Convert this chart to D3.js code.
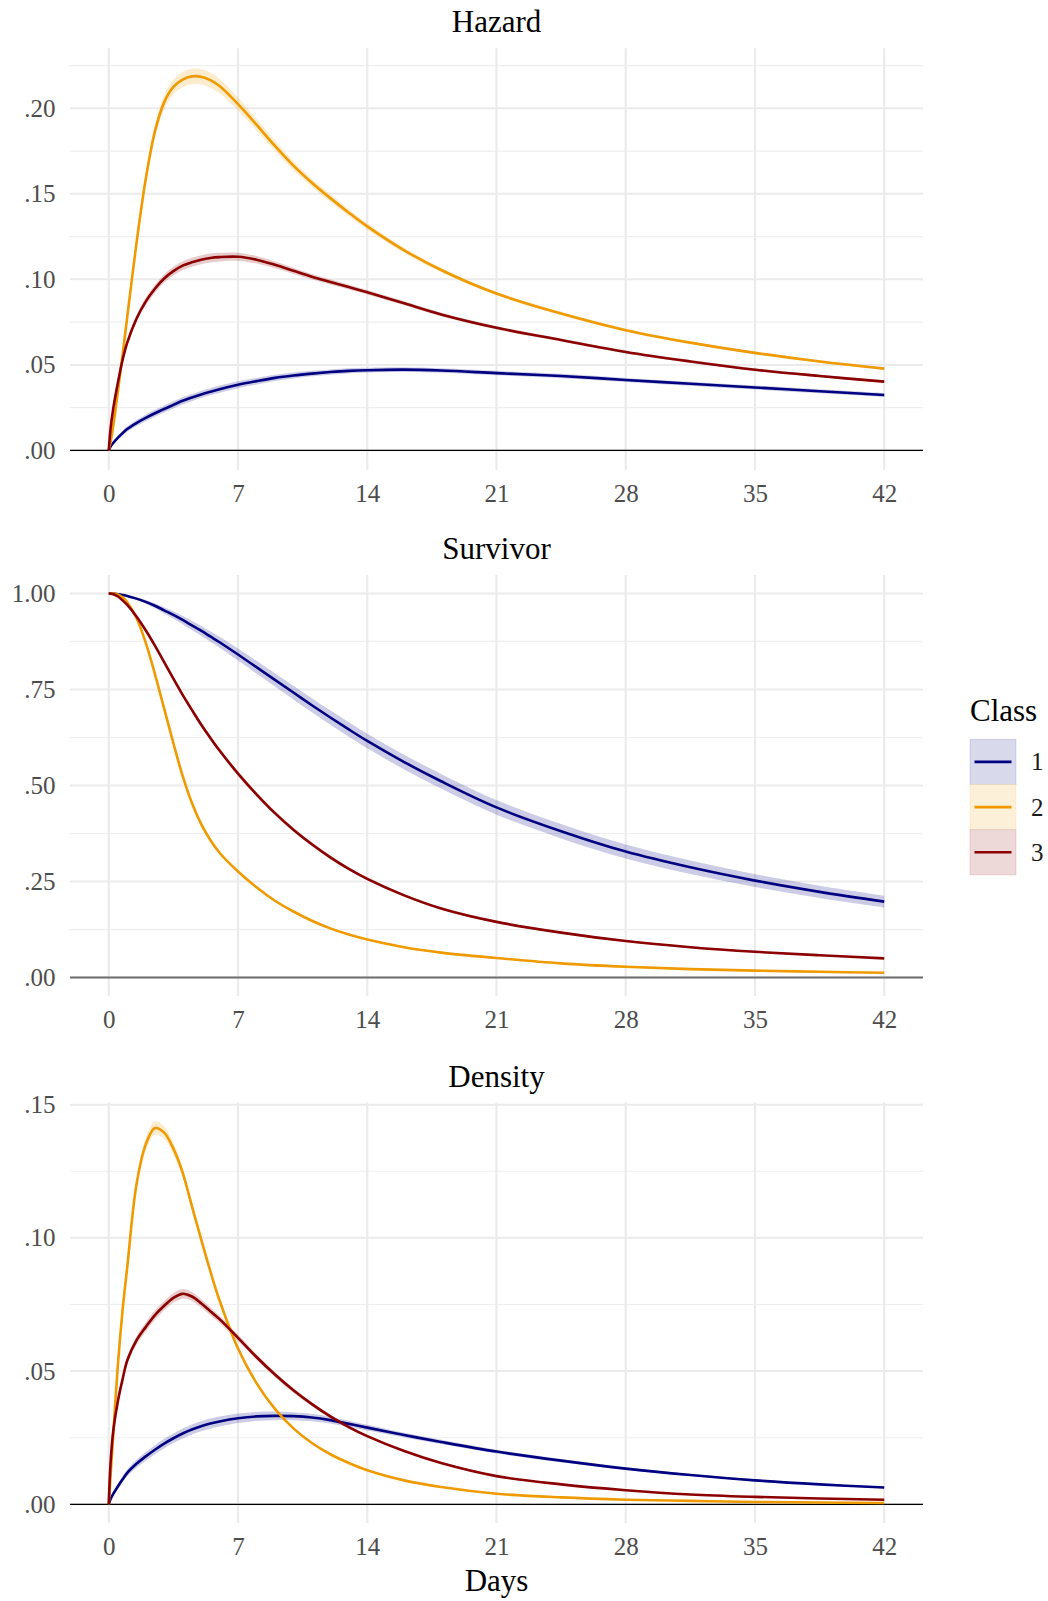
<!DOCTYPE html>
<html>
<head>
<meta charset="utf-8">
<script src="https://cdn.jsdelivr.net/npm/d3@7"></script>
<style>
  body { margin: 0; background: #fff; }
  text { font-family: "Liberation Serif", "Times New Roman", serif; }
</style>
</head>
<body>
<div id="chart"></div>
<script>
// values, one entry per day in `days`
const days = [0, 0.1, 0.25, 0.5, 0.75, 1, 1.5, 2, 2.5, 3, 3.5, 4, 4.5, 5, 5.5, 6, 7, 8, 9, 10, 11, 12, 13, 14, 16, 18, 21, 24.5, 28, 31.5, 35, 38.5, 42];
const classes = ['1', '2', '3'];

const hazard1 = [0, 0.0023, 0.0045, 0.0075, 0.0101, 0.0125, 0.016, 0.019, 0.0217, 0.0242, 0.0266, 0.029, 0.0309, 0.0327, 0.0343, 0.0358, 0.0384, 0.0405, 0.0424, 0.0438, 0.0449, 0.0458, 0.0465, 0.0469, 0.0472, 0.0467, 0.0452, 0.0435, 0.0412, 0.039, 0.0368, 0.0346, 0.0324];
const hazard2 = [0, 0.005, 0.015, 0.035, 0.056, 0.078, 0.121, 0.1585, 0.1865, 0.2035, 0.2125, 0.2168, 0.2187, 0.2185, 0.2165, 0.213, 0.2025, 0.1905, 0.178, 0.1665, 0.1565, 0.1475, 0.139, 0.131, 0.117, 0.1055, 0.0917, 0.08, 0.0703, 0.063, 0.057, 0.052, 0.0478];
const hazard3 = [0, 0.013, 0.025, 0.04, 0.053, 0.063, 0.077, 0.087, 0.0945, 0.1005, 0.1048, 0.108, 0.11, 0.1115, 0.1125, 0.113, 0.1132, 0.1115, 0.1085, 0.105, 0.1015, 0.0985, 0.0955, 0.0925, 0.086, 0.0795, 0.0717, 0.0645, 0.0575, 0.052, 0.0472, 0.0435, 0.0402];
const hazardCI1 = [0, 0.0007, 0.001, 0.0013, 0.0015, 0.0016, 0.0018, 0.0019, 0.002, 0.0021, 0.0021, 0.0021, 0.0021, 0.0021, 0.0021, 0.0021, 0.002, 0.0019, 0.0018, 0.0017, 0.0016, 0.0015, 0.0015, 0.0014, 0.0014, 0.0013, 0.0013, 0.0013, 0.0012, 0.0012, 0.0012, 0.0012, 0.0012];
const hazardCI2 = [0, 0.0004, 0.0008, 0.0012, 0.0016, 0.002, 0.0027, 0.0034, 0.0039, 0.0042, 0.0044, 0.0045, 0.0045, 0.0045, 0.0044, 0.0042, 0.0038, 0.0034, 0.003, 0.0027, 0.0024, 0.0022, 0.002, 0.0018, 0.0015, 0.0013, 0.0011, 0.001, 0.0009, 0.0008, 0.0008, 0.0008, 0.0008];
const hazardCI3 = [0, 0.0008, 0.0011, 0.0014, 0.0016, 0.0018, 0.002, 0.0022, 0.0024, 0.0025, 0.0026, 0.0026, 0.0026, 0.0026, 0.0026, 0.0025, 0.0024, 0.0022, 0.002, 0.0018, 0.0016, 0.0015, 0.0014, 0.0013, 0.0012, 0.0011, 0.001, 0.0009, 0.0008, 0.0008, 0.0008, 0.0008, 0.0008];

const survivor1 = [1, 0.9999, 0.9995, 0.998, 0.996, 0.9935, 0.9865, 0.978, 0.968, 0.956, 0.944, 0.931, 0.917, 0.903, 0.888, 0.873, 0.841, 0.808, 0.775, 0.742, 0.709, 0.677, 0.646, 0.616, 0.561, 0.511, 0.443, 0.381, 0.328, 0.287, 0.2524, 0.223, 0.1977];
const survivor2 = [1, 0.9999, 0.9995, 0.997, 0.99, 0.977, 0.936, 0.872, 0.79, 0.70, 0.61, 0.525, 0.455, 0.40, 0.358, 0.325, 0.276, 0.235, 0.2, 0.172, 0.148, 0.128, 0.112, 0.099, 0.079, 0.065, 0.051, 0.037, 0.028, 0.022, 0.018, 0.015, 0.0125];
const survivor3 = [1, 0.9995, 0.998, 0.992, 0.982, 0.97, 0.94, 0.904, 0.864, 0.821, 0.778, 0.736, 0.697, 0.659, 0.624, 0.591, 0.531, 0.477, 0.428, 0.385, 0.347, 0.313, 0.283, 0.257, 0.214, 0.18, 0.145, 0.117, 0.095, 0.079, 0.067, 0.058, 0.05];
const survivorCI1 = [0, 0.0001, 0.0002, 0.0007, 0.0012, 0.0018, 0.0033, 0.0048, 0.0065, 0.0082, 0.0097, 0.011, 0.0121, 0.013, 0.0138, 0.0145, 0.0157, 0.0167, 0.0175, 0.018, 0.0184, 0.0187, 0.0189, 0.019, 0.0191, 0.0191, 0.019, 0.0187, 0.0182, 0.0175, 0.0168, 0.016, 0.0153];
const survivorCI2 = [0, 0.0001, 0.0002, 0.0005, 0.0007, 0.001, 0.0016, 0.0021, 0.0025, 0.0027, 0.0028, 0.0028, 0.0027, 0.0026, 0.0025, 0.0024, 0.0022, 0.002, 0.0018, 0.0016, 0.0014, 0.0013, 0.0012, 0.0011, 0.0009, 0.0008, 0.0007, 0.0006, 0.0005, 0.0005, 0.0004, 0.0004, 0.0004];
const survivorCI3 = [0, 0.0002, 0.0005, 0.001, 0.0015, 0.002, 0.0028, 0.0035, 0.004, 0.0045, 0.0049, 0.0052, 0.0054, 0.0056, 0.0057, 0.0058, 0.0058, 0.0057, 0.0055, 0.0053, 0.005, 0.0047, 0.0045, 0.0042, 0.0038, 0.0034, 0.003, 0.0027, 0.0024, 0.0022, 0.002, 0.0019, 0.0018];

const density1 = [0, 0.002, 0.004, 0.0068, 0.0094, 0.0118, 0.0152, 0.018, 0.0205, 0.0228, 0.0248, 0.0266, 0.0281, 0.0293, 0.0303, 0.0311, 0.0323, 0.033, 0.0332, 0.0331, 0.0326, 0.0316, 0.0302, 0.0288, 0.026, 0.0234, 0.0198, 0.0164, 0.0134, 0.011, 0.009, 0.0075, 0.0063];
const density2 = [0, 0.011, 0.027, 0.053, 0.073, 0.089, 0.12, 0.135, 0.1412, 0.1395, 0.1335, 0.1245, 0.112, 0.0995, 0.0875, 0.0765, 0.0585, 0.0455, 0.0358, 0.0285, 0.023, 0.0188, 0.0155, 0.0128, 0.009, 0.0065, 0.004, 0.0026, 0.00175, 0.0013, 0.0009, 0.0007, 0.0005];
const density3 = [0, 0.016, 0.028, 0.039, 0.047, 0.054, 0.0615, 0.0665, 0.071, 0.0745, 0.0775, 0.079, 0.078, 0.0755, 0.0725, 0.0695, 0.0625, 0.0553, 0.0487, 0.0428, 0.0376, 0.033, 0.029, 0.0256, 0.02, 0.0155, 0.0106, 0.0075, 0.0053, 0.0037, 0.0028, 0.0022, 0.00175];
const densityCI1 = [0, 0.0004, 0.0007, 0.001, 0.0012, 0.0013, 0.0015, 0.0016, 0.0017, 0.0018, 0.0018, 0.0019, 0.0019, 0.0019, 0.0019, 0.0019, 0.0018, 0.0017, 0.0016, 0.0015, 0.0014, 0.0013, 0.0012, 0.0011, 0.0009, 0.0008, 0.0007, 0.0006, 0.0005, 0.0004, 0.0004, 0.0003, 0.0003];
const densityCI2 = [0, 0.0003, 0.0007, 0.0011, 0.0014, 0.0017, 0.0021, 0.0024, 0.0025, 0.0024, 0.0021, 0.0018, 0.0015, 0.0012, 0.001, 0.0009, 0.0007, 0.0006, 0.0005, 0.0004, 0.0004, 0.0003, 0.0003, 0.0003, 0.0002, 0.0002, 0.0001, 0.0001, 0.0001, 0.0001, 0.0001, 0.0001, 0.0001];
const densityCI3 = [0, 0.0004, 0.0008, 0.0011, 0.0013, 0.0014, 0.0016, 0.0017, 0.0018, 0.0018, 0.0018, 0.0018, 0.0017, 0.0016, 0.0015, 0.0014, 0.0012, 0.0011, 0.001, 0.0009, 0.0008, 0.0007, 0.0006, 0.0005, 0.0004, 0.0004, 0.0003, 0.0002, 0.0002, 0.0001, 0.0001, 0.0001, 0.0001];

const xTicks = [0, 7, 14, 21, 28, 35, 42];
const hazardTicks = [0, 0.05, 0.10, 0.15, 0.20];
const hazardTickLabels = ['.00', '.05', '.10', '.15', '.20'];
const survivorTicks = [0, 0.25, 0.5, 0.75, 1];
const survivorTickLabels = ['.00', '.25', '.50', '.75', '1.00'];
const densityTicks = [0, 0.05, 0.10, 0.15];
const densityTickLabels = ['.00', '.05', '.10', '.15'];

// styling / layout
const colors = ['#000080', '#EE9A00', '#8B0000'];
const serif = '"Liberation Serif", "Times New Roman", serif';
const W = 1048, H = 1601;
const left = 70, right = 923;

const panels = [
  { title: 'Hazard', top: 48.3, bottom: 470, domain: [-0.01146, 0.2351],
    ticks: hazardTicks, labels: hazardTickLabels, minor: [0.025, 0.075, 0.125, 0.175, 0.225],
    series: [hazard1, hazard2, hazard3], ci: [hazardCI1, hazardCI2, hazardCI3],
    zeroColor: '#000', zeroWidth: 1.4 },
  { title: 'Survivor', top: 575, bottom: 996, domain: [-0.048, 1.048],
    ticks: survivorTicks, labels: survivorTickLabels, minor: [0.125, 0.375, 0.625, 0.875],
    series: [survivor1, survivor2, survivor3], ci: [survivorCI1, survivorCI2, survivorCI3],
    zeroColor: '#6e6e6e', zeroWidth: 2 },
  { title: 'Density', top: 1102.5, bottom: 1523, domain: [-0.007, 0.1508],
    ticks: densityTicks, labels: densityTickLabels, minor: [0.025, 0.075, 0.125],
    series: [density1, density2, density3], ci: [densityCI1, densityCI2, densityCI3],
    zeroColor: '#000', zeroWidth: 1.4 }
];

const svg = d3.select('#chart').append('svg')
  .attr('width', W)
  .attr('height', H)
  .style('background', '#fff');

const x = d3.scaleLinear().domain([-2.1, 44.1]).range([left, right]);
const curve = d3.curveCatmullRom.alpha(0.5);

panels.forEach(p => {
  const y = d3.scaleLinear().domain(p.domain).range([p.bottom, p.top]);
  const g = svg.append('g');

  // grid
  g.append('g').selectAll('line')
    .data(p.minor)
    .join('line')
    .attr('x1', left).attr('x2', right)
    .attr('y1', d => y(d)).attr('y2', d => y(d))
    .attr('stroke', '#efefef')
    .attr('stroke-width', 1.2);

  g.append('g').selectAll('line')
    .data(p.ticks)
    .join('line')
    .attr('x1', left).attr('x2', right)
    .attr('y1', d => y(d)).attr('y2', d => y(d))
    .attr('stroke', '#ebebeb')
    .attr('stroke-width', 2);

  g.append('g').selectAll('line')
    .data(xTicks)
    .join('line')
    .attr('x1', d => x(d)).attr('x2', d => x(d))
    .attr('y1', p.top).attr('y2', p.bottom)
    .attr('stroke', '#ebebeb')
    .attr('stroke-width', 2.2);

  // zero line
  g.append('line')
    .attr('x1', left).attr('x2', right)
    .attr('y1', y(0)).attr('y2', y(0))
    .attr('stroke', p.zeroColor)
    .attr('stroke-width', p.zeroWidth);

  // ribbons
  p.series.forEach((vals, i) => {
    const ci = p.ci[i];
    const area = d3.area()
      .x((d, j) => x(days[j]))
      .y0((d, j) => y(vals[j] - ci[j]))
      .y1((d, j) => y(vals[j] + ci[j]))
      .curve(curve);
    g.append('path')
      .datum(vals)
      .attr('d', area)
      .attr('fill', colors[i])
      .attr('fill-opacity', 0.2);
  });

  // lines
  p.series.forEach((vals, i) => {
    const line = d3.line()
      .x((d, j) => x(days[j]))
      .y(d => y(d))
      .curve(curve);
    g.append('path')
      .datum(vals)
      .attr('d', line)
      .attr('fill', 'none')
      .attr('stroke', colors[i])
      .attr('stroke-width', 2.6)
      .attr('stroke-linejoin', 'round');
  });

  // axes
  const xAxis = g.append('g')
    .attr('transform', `translate(0,${p.bottom})`)
    .call(d3.axisBottom(x).tickValues(xTicks).tickSize(0).tickPadding(14));
  xAxis.select('.domain').remove();
  xAxis.attr('font-family', serif).attr('font-size', 25);
  xAxis.selectAll('text').attr('fill', '#4d4d4d');

  const yAxis = g.append('g')
    .attr('transform', `translate(${left},0)`)
    .call(d3.axisLeft(y).tickValues(p.ticks).tickSize(0).tickPadding(14.6)
      .tickFormat((d, i) => p.labels[i]));
  yAxis.select('.domain').remove();
  yAxis.attr('font-family', serif).attr('font-size', 25);
  yAxis.selectAll('text').attr('fill', '#4d4d4d');

  // title
  svg.append('text')
    .attr('x', (left + right) / 2)
    .attr('y', p.top - 16)
    .attr('text-anchor', 'middle')
    .attr('font-size', 31)
    .attr('fill', '#000')
    .text(p.title);
});

// x axis title
svg.append('text')
  .attr('x', (left + right) / 2)
  .attr('y', 1591)
  .attr('text-anchor', 'middle')
  .attr('font-size', 31)
  .attr('fill', '#000')
  .text('Days');

// legend
const legend = svg.append('g').attr('transform', 'translate(970,0)');
legend.append('text')
  .attr('x', 0)
  .attr('y', 721)
  .attr('font-size', 31)
  .attr('fill', '#000')
  .text('Class');

const keys = legend.selectAll('.key')
  .data(classes)
  .join('g')
  .attr('class', 'key')
  .attr('transform', (d, i) => `translate(0,${739.3 + i * 45.2})`);

keys.append('rect')
  .attr('width', 46)
  .attr('height', 45.2)
  .attr('fill', '#fff');
keys.append('rect')
  .attr('width', 46)
  .attr('height', 45.2)
  .attr('fill', (d, i) => colors[i])
  .attr('fill-opacity', 0.15)
  .attr('stroke', (d, i) => colors[i])
  .attr('stroke-opacity', 0.12)
  .attr('stroke-width', 1);
keys.append('line')
  .attr('x1', 4.5).attr('x2', 41.5)
  .attr('y1', 22.6).attr('y2', 22.6)
  .attr('stroke', (d, i) => colors[i])
  .attr('stroke-width', 2.6);
keys.append('text')
  .attr('x', 61)
  .attr('y', 22.6)
  .attr('dy', '0.34em')
  .attr('font-size', 25)
  .attr('fill', '#1a1a1a')
  .text(d => d);
</script>
</body>
</html>
